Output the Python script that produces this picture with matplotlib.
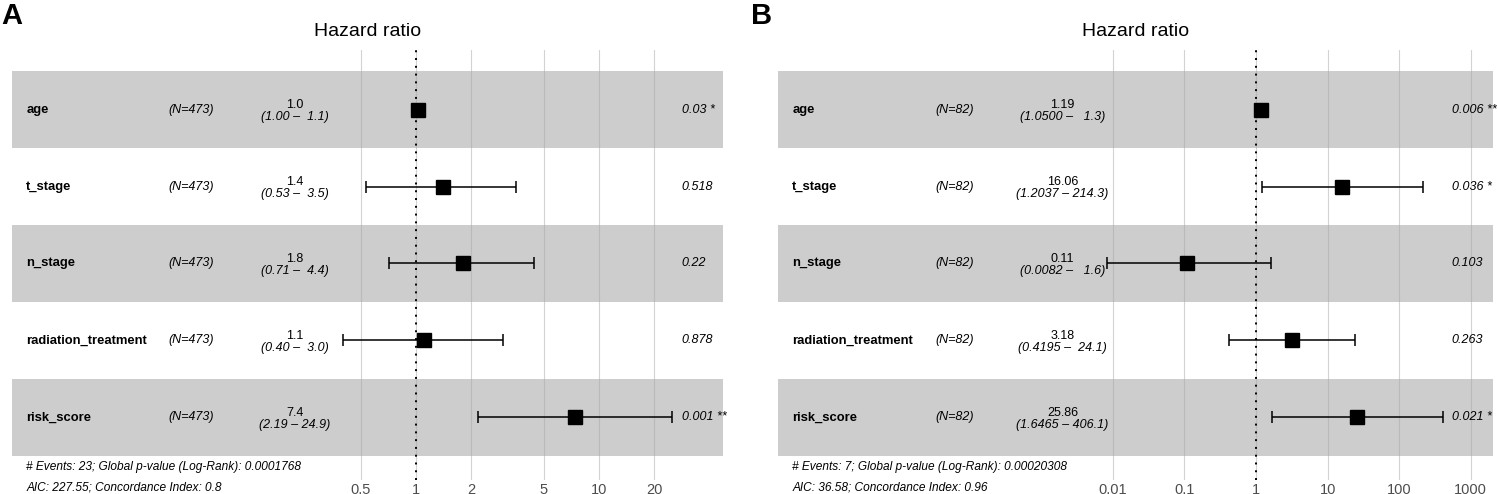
import numpy as np
import matplotlib
matplotlib.use("Agg")
import matplotlib.pyplot as plt
from matplotlib.ticker import NullLocator
from matplotlib.transforms import blended_transform_factory

plt.rcParams['font.family'] = ['Liberation Sans', 'DejaVu Sans']

# ---- data ----
variables = ["age", "t_stage", "n_stage", "radiation_treatment", "risk_score"]

# panel A
a_n = [473, 473, 473, 473, 473]
a_hr = [1.03, 1.4, 1.8, 1.1, 7.4]
a_lo = [1.00, 0.53, 0.71, 0.40, 2.19]
a_hi = [1.1, 3.5, 4.4, 3.0, 24.9]
a_p = [0.03, 0.518, 0.22, 0.878, 0.001]
a_ticks = [0.5, 1, 2, 5, 10, 20]
a_footer = ["# Events: 23; Global p-value (Log-Rank): 0.0001768",
            "AIC: 227.55; Concordance Index: 0.8"]

# panel B
b_n = [82, 82, 82, 82, 82]
b_hr = [1.19, 16.06, 0.11, 3.18, 25.86]
b_lo = [1.05, 1.2037, 0.0082, 0.4195, 1.6465]
b_hi = [1.3, 214.3, 1.6, 24.1, 406.1]
b_p = [0.006, 0.036, 0.103, 0.263, 0.021]
b_ticks = [0.01, 0.1, 1, 10, 100, 1000]
b_footer = ["# Events: 7; Global p-value (Log-Rank): 0.00020308",
            "AIC: 36.58; Concordance Index: 0.96"]


def stars(p):
    if p < 0.001:
        return " ***"
    if p < 0.01:
        return " **"
    if p < 0.05:
        return " *"
    return ""


def draw_forest(ax, n, hr, lo, hi, p, ticks, footer, xlim_dec,
                est_fmt, lo_fmt, hi_width):
    ''' One ggforest-like panel: table columns + log-scale hazard ratios. '''
    hr = np.array(hr)
    lo = np.array(lo)
    hi = np.array(hi)
    rows = np.arange(len(variables))

    for i in rows:
        if i % 2 == 0:
            ax.axhspan(i - 0.5, i + 0.5, color='#cdcdcd', lw=0, zorder=0)
    for t in ticks:
        ax.axvline(t, color='#a8a8a8', alpha=0.5, lw=0.8, zorder=1)
    ax.axvline(1, color='black', ls=(0, (1, 3)), lw=1.4, zorder=2)

    ax.errorbar(hr, rows, xerr=[hr - lo, hi - hr], fmt='none', ecolor='black',
                elinewidth=1.1, capsize=4.3, capthick=1.1, zorder=3)
    ax.plot(hr, rows, 's', color='black', ms=10.5, zorder=4)

    # y axis is inverted: a larger y value sits lower on the page
    trans = blended_transform_factory(ax.transAxes, ax.transData)
    for i in rows:
        ax.text(0.020, i, variables[i], transform=trans, fontsize=9.4,
                fontweight='bold', va='center', ha='left')
        ax.text(0.220, i, "(N=%d)" % n[i], transform=trans, fontsize=9,
                style='italic', va='center', ha='left')
        ax.text(0.398, i + 0.015, format(hr[i], est_fmt), transform=trans,
                fontsize=9, va='bottom', ha='center')
        ci = "(" + format(lo[i], lo_fmt) + " – " + \
            format(hi[i], '.1f').rjust(hi_width) + ")"
        ax.text(0.398, i + 0.015, ci, transform=trans, fontsize=9,
                style='italic', va='top', ha='center')
        ax.text(0.942, i, str(p[i]) + stars(p[i]), transform=trans,
                fontsize=9, style='italic', va='center', ha='left',
                clip_on=False)

    ax.text(0.020, 4.643, footer[0], transform=trans, fontsize=8.6,
            style='italic', va='center', ha='left', clip_on=False)
    ax.text(0.020, 4.903, footer[1], transform=trans, fontsize=8.6,
            style='italic', va='center', ha='left', clip_on=False)

    ax.text(0.5, 1 + 18 / 430, "Hazard ratio", transform=ax.transAxes,
            fontsize=14, ha='center', va='center')

    ax.set_xscale('log')
    ax.set_xlim(10 ** xlim_dec[0], 10 ** xlim_dec[1])
    ax.set_ylim(4.812, -0.773)
    ax.set_xticks(ticks)
    ax.set_xticklabels(["%g" % t for t in ticks])
    ax.xaxis.set_minor_locator(NullLocator())
    ax.set_yticks([])
    ax.tick_params(axis='x', length=0, pad=2, labelsize=10.5,
                   labelcolor='#4d4d4d')
    for s in ax.spines.values():
        s.set_visible(False)


fig = plt.figure(figsize=(14.98, 4.94), dpi=100)
axA = fig.add_axes([12 / 1498, 14 / 494, 711 / 1498, 430 / 494])
axB = fig.add_axes([778 / 1498, 14 / 494, 715 / 1498, 430 / 494])

draw_forest(axA, a_n, a_hr, a_lo, a_hi, a_p, a_ticks, a_footer,
            ((12 - 416) / 183, (723 - 416) / 183), '.1f', '.2f', 4)
draw_forest(axB, b_n, b_hr, b_lo, b_hi, b_p, b_ticks, b_footer,
            ((778 - 1256) / 71.6, (1493 - 1256) / 71.6), '.2f', '.4f', 5)

fig.text(1 / 1498, 1 - 2 / 494, "A", fontsize=21, fontweight='bold',
         ha='left', va='top')
fig.text(751 / 1498, 1 - 2 / 494, "B", fontsize=21, fontweight='bold',
         ha='left', va='top')

fig.savefig("out.png", dpi=100)
